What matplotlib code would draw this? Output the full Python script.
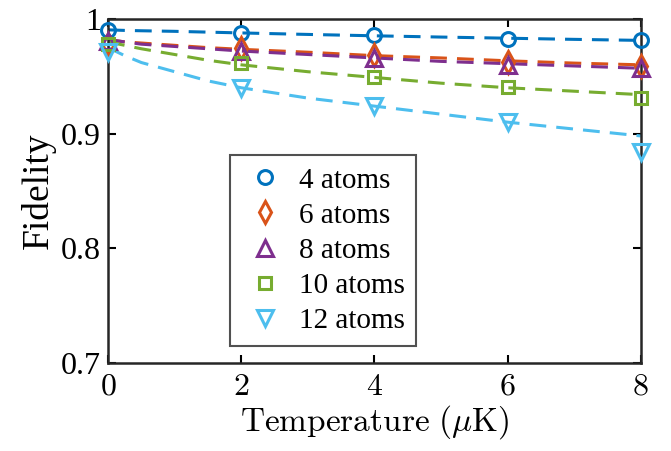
import numpy as np
import matplotlib.pyplot as plt
from matplotlib.lines import Line2D

# measured points
temps = [0, 2, 4, 6, 8]
fid_4 = [0.990, 0.988, 0.986, 0.9825, 0.9815]
fid_6 = [0.978, 0.975, 0.969, 0.9625, 0.959]
fid_8 = [0.981, 0.972, 0.966, 0.960, 0.957]
fid_10 = [0.978, 0.962, 0.949, 0.941, 0.931]
fid_12 = [0.971, 0.940, 0.924, 0.910, 0.884]

# dashed fit curves
fit_t = [0, 0.25, 0.5, 1, 1.5, 2, 3, 4, 5, 6, 7, 8]
fit_4 = [0.9905, 0.990, 0.9897, 0.9892, 0.9885, 0.9878, 0.9865, 0.9853, 0.9842, 0.9832, 0.9822, 0.9813]
fit_6 = [0.982, 0.980, 0.979, 0.977, 0.975, 0.9735, 0.971, 0.968, 0.966, 0.9635, 0.9615, 0.960]
fit_8 = [0.982, 0.980, 0.978, 0.976, 0.974, 0.972, 0.969, 0.966, 0.963, 0.961, 0.959, 0.957]
fit_10 = [0.980, 0.977, 0.974, 0.969, 0.964, 0.960, 0.954, 0.949, 0.944, 0.940, 0.937, 0.934]
fit_12 = [0.975, 0.968, 0.962, 0.954, 0.946, 0.940, 0.931, 0.924, 0.917, 0.910, 0.904, 0.898]

labels = ['4 atoms', '6 atoms', '8 atoms', '10 atoms', '12 atoms']
xtick_labels = ['0', '2', '4', '6', '8']
colors = ['#0072BD', '#D95319', '#7E2F8E', '#77AC30', '#4DBEEE']
markers = ['o', 'd', '^', 's', 'v']
msizes = [10, 11, 12, 9, 12]

plt.rcParams['font.family'] = 'Liberation Serif'
plt.rcParams['mathtext.fontset'] = 'cm'

fig = plt.figure(figsize=(6.71, 4.51), dpi=100)
ax = fig.add_axes([0.161, 0.195, 0.794, 0.763])

pts = [fid_4, fid_6, fid_8, fid_10, fid_12]
fits = [fit_4, fit_6, fit_8, fit_10, fit_12]

for i in range(5):
    ax.plot(fit_t, fits[i], '--', color=colors[i], lw=2.2, dashes=(5.5, 3.3), zorder=2)
for i in range(5):
    ax.plot(temps, pts[i], linestyle='none', marker=markers[i], ms=msizes[i],
            mfc='none', mec=colors[i], mew=2.2, clip_on=False, zorder=3)

ax.set_xlim(0, 8)
ax.set_ylim(0.7, 1)
ax.set_xticks(temps)
ax.set_xticklabels(['$' + t + '$' for t in xtick_labels], fontsize=23)
ax.set_yticks([0.7, 0.8, 0.9, 1])
ax.set_yticklabels(['0.7', '0.8', '0.9', '1'], fontsize=23)
ax.tick_params(direction='in', top=True, right=True, length=6, width=1.5)
ax.tick_params(axis='x', pad=7)
ax.tick_params(axis='y', pad=5)
for s in ax.spines.values():
    s.set_linewidth(1.8)
    s.set_color('#262626')

ax.set_xlabel(r'$\mathrm{Temperature}\ (\mu\mathrm{K})$', fontsize=24, labelpad=1)
ax.set_ylabel('Fidelity', fontsize=27, labelpad=4)

handles = [Line2D([], [], linestyle='none', marker=markers[i], ms=msizes[i],
                  mfc='none', mec=colors[i], mew=2.2) for i in range(5)]
leg = ax.legend(handles, labels, loc='lower left', bbox_to_anchor=(0.229, 0.05),
                fontsize=21, frameon=True, fancybox=False, edgecolor='#262626',
                borderpad=0.4, labelspacing=0.3, handletextpad=0.35, handlelength=1.6,
                borderaxespad=0)
leg.get_frame().set_linewidth(1.5)

fig.savefig('out.png', dpi=100)
